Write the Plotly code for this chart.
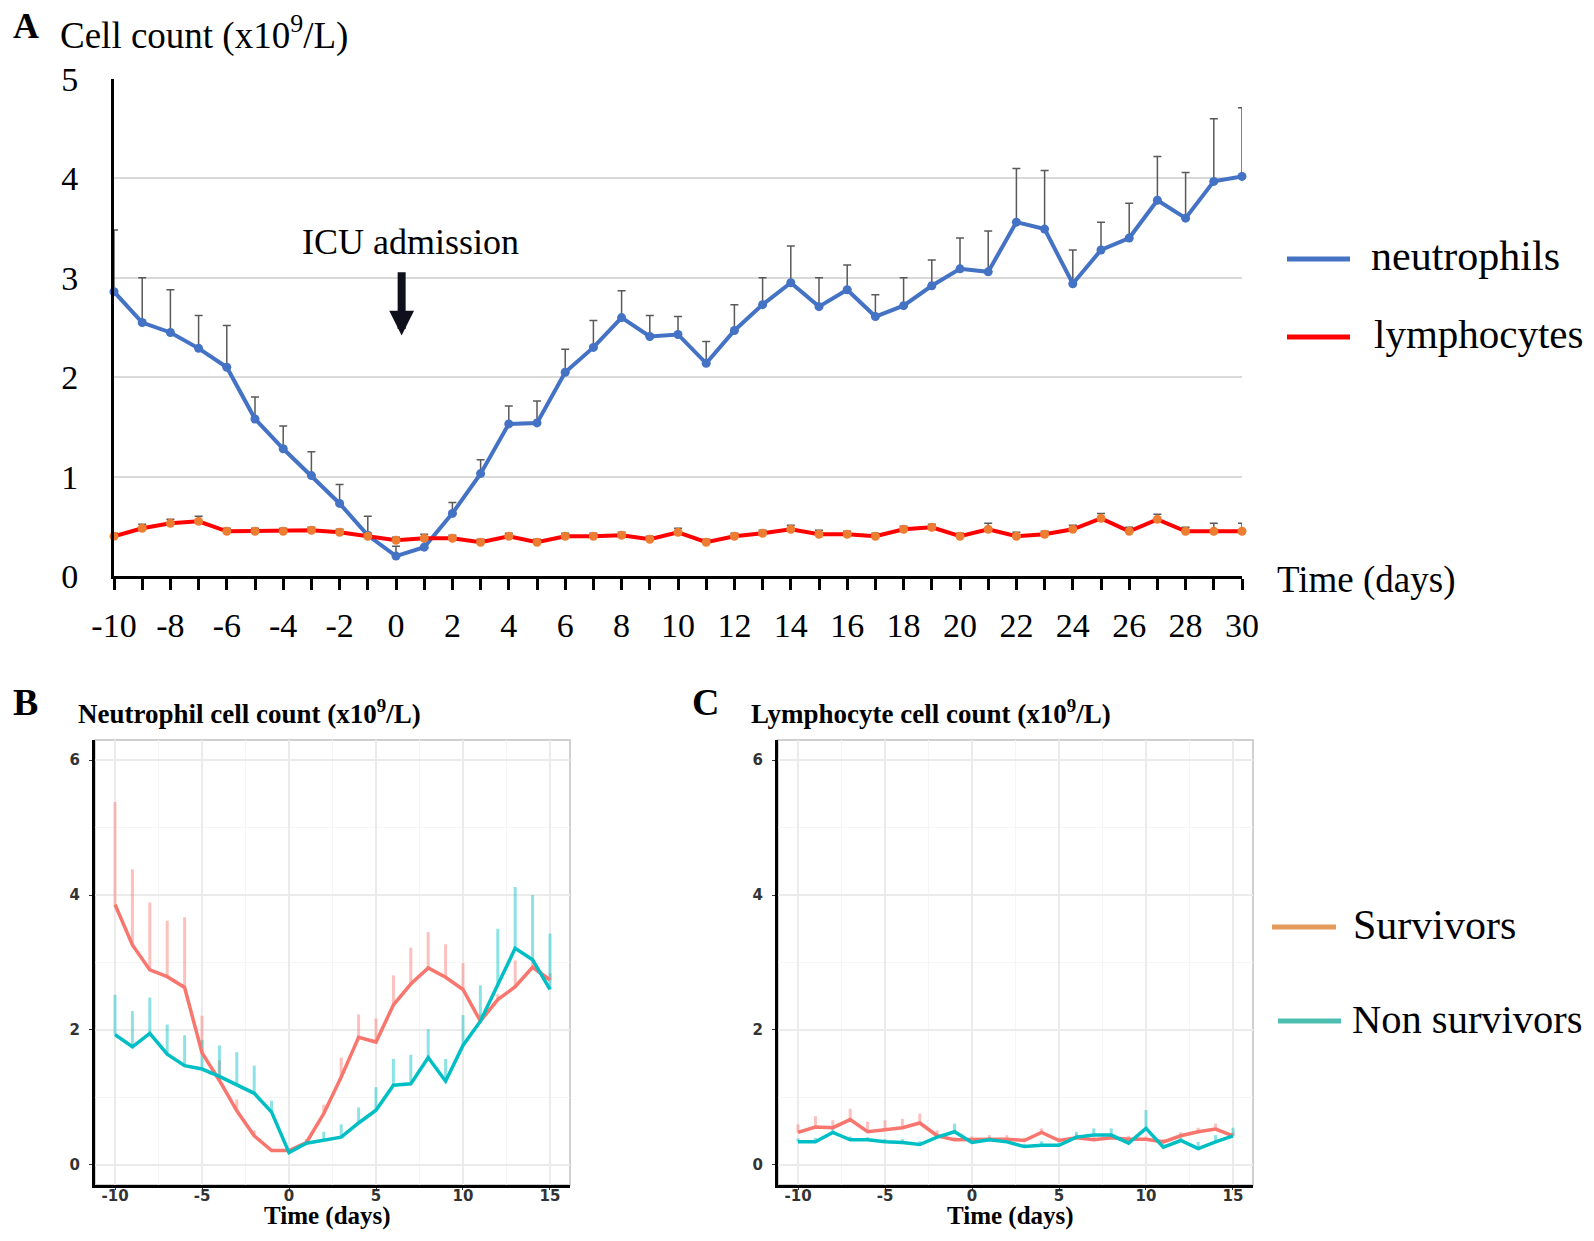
import plotly.graph_objects as go

# ---- Panel A data: whole cohort, day -10 .. 30 ----
days_a = list(range(-10, 31))
neutrophils = [2.86, 2.55, 2.45, 2.29, 2.10, 1.58, 1.28, 1.01, 0.73, 0.41,
               0.20, 0.29, 0.63, 1.03, 1.53, 1.54, 2.05, 2.30, 2.60, 2.41,
               2.43, 2.14, 2.47, 2.73, 2.95, 2.71, 2.88, 2.61, 2.72, 2.92,
               3.09, 3.06, 3.56, 3.49, 2.94, 3.28, 3.40, 3.78, 3.60, 3.97, 4.02]
neutrophils_err = [0.62, 0.45, 0.43, 0.33, 0.42, 0.22, 0.23, 0.24, 0.19, 0.19,
                   0.10, 0.08, 0.11, 0.14, 0.18, 0.22, 0.23, 0.27, 0.27, 0.21,
                   0.18, 0.22, 0.26, 0.27, 0.37, 0.29, 0.25, 0.22, 0.28, 0.26,
                   0.31, 0.41, 0.54, 0.59, 0.34, 0.28, 0.35, 0.44, 0.46, 0.63, 0.69]
lymphocytes = [0.40, 0.48, 0.53, 0.55, 0.45, 0.45, 0.45, 0.46, 0.44, 0.40,
               0.36, 0.38, 0.38, 0.34, 0.40, 0.34, 0.40, 0.40, 0.41, 0.37,
               0.44, 0.34, 0.40, 0.43, 0.47, 0.42, 0.42, 0.40, 0.47, 0.49,
               0.40, 0.47, 0.40, 0.42, 0.47, 0.58, 0.45, 0.57, 0.45, 0.45, 0.45]
lymphocytes_err = [0.03, 0.04, 0.04, 0.05, 0.03, 0.03, 0.03, 0.03, 0.03, 0.03,
                   0.03, 0.04, 0.03, 0.03, 0.03, 0.03, 0.03, 0.03, 0.03, 0.03,
                   0.04, 0.03, 0.03, 0.03, 0.04, 0.04, 0.03, 0.03, 0.03, 0.03,
                   0.03, 0.06, 0.04, 0.03, 0.04, 0.05, 0.04, 0.05, 0.04, 0.08, 0.08]
ticks_a = list(range(-10, 31, 2))

# ---- Panels B and C: survivors vs non survivors, day -10 .. 15 ----
days_bc = list(range(-10, 16))
neut_surv = [3.86, 3.26, 2.89, 2.79, 2.63, 1.66, 1.25, 0.80, 0.43, 0.21,
             0.21, 0.33, 0.76, 1.30, 1.89, 1.82, 2.37, 2.68, 2.92, 2.78,
             2.60, 2.13, 2.45, 2.64, 2.93, 2.74]
neut_surv_err = [1.52, 1.12, 1.00, 0.83, 1.04, 0.55, 0.30, 0.17, 0.08, 0.03,
                 0.03, 0.05, 0.13, 0.29, 0.34, 0.35, 0.44, 0.54, 0.53, 0.49,
                 0.39, 0.10, 0.08, 0.39, 0.10, 0.10]
neut_non = [1.93, 1.75, 1.95, 1.64, 1.47, 1.42, 1.31, 1.19, 1.06, 0.78,
            0.18, 0.32, 0.36, 0.41, 0.62, 0.81, 1.18, 1.20, 1.59, 1.24,
            1.77, 2.13, 2.67, 3.21, 3.04, 2.60]
neut_non_err = [0.59, 0.53, 0.53, 0.44, 0.45, 0.43, 0.46, 0.48, 0.41, 0.17,
                0.03, 0.05, 0.13, 0.19, 0.23, 0.34, 0.39, 0.43, 0.42, 0.33,
                0.45, 0.53, 0.83, 0.91, 0.96, 0.83]
lymph_surv = [0.48, 0.56, 0.55, 0.67, 0.49, 0.52, 0.55, 0.62, 0.43, 0.37,
              0.38, 0.38, 0.38, 0.36, 0.48, 0.36, 0.40, 0.37, 0.40, 0.38,
              0.38, 0.34, 0.43, 0.49, 0.53, 0.43]
lymph_surv_err = [0.12, 0.16, 0.11, 0.16, 0.15, 0.14, 0.13, 0.14, 0.08, 0.04,
                  0.04, 0.06, 0.06, 0.04, 0.06, 0.04, 0.05, 0.05, 0.05, 0.05,
                  0.04, 0.04, 0.05, 0.06, 0.08, 0.05]
lymph_non = [0.34, 0.34, 0.48, 0.37, 0.37, 0.34, 0.33, 0.30, 0.41, 0.49,
             0.33, 0.37, 0.34, 0.27, 0.29, 0.29, 0.41, 0.44, 0.44, 0.32,
             0.54, 0.26, 0.36, 0.24, 0.34, 0.43]
lymph_non_err = [0.05, 0.06, 0.05, 0.05, 0.04, 0.04, 0.05, 0.05, 0.05, 0.12,
                 0.04, 0.04, 0.04, 0.04, 0.06, 0.04, 0.08, 0.10, 0.10, 0.05,
                 0.27, 0.04, 0.10, 0.10, 0.10, 0.12]
ticks_bc = [-10, -5, 0, 5, 10, 15]
ticks_bc_y = [0, 2, 4, 6]

# the page body has an 8px margin, so the figure starts 8px in from the corner
# and is kept 16px smaller than the window to avoid scrollbars
PAD = 8
W, H = 1594 - 2 * PAD, 1241 - 2 * PAD
SERIF = "Liberation Serif, Times New Roman, serif"
SURV = "#f8766d"
NON = "#00bfc4"


def px(x):
    return (x - PAD) / W


def py(y):
    return 1 - (y - PAD) / H


fig = go.Figure()

# panel A
fig.add_trace(go.Scatter(
    x=days_a, y=neutrophils, mode="lines+markers", cliponaxis=False,
    line=dict(color="#4472c4", width=4), marker=dict(color="#4472c4", size=9),
    error_y=dict(type="data", symmetric=False, array=neutrophils_err,
                 arrayminus=[0] * len(days_a), color="#595959", thickness=1.5, width=4),
    showlegend=False, xaxis="x", yaxis="y"))
fig.add_trace(go.Scatter(
    x=days_a, y=lymphocytes, mode="lines+markers", cliponaxis=False,
    line=dict(color="#ff0000", width=4), marker=dict(color="#ed7d31", size=9),
    error_y=dict(type="data", symmetric=False, array=lymphocytes_err,
                 arrayminus=[0] * len(days_a), color="#595959", thickness=1.5, width=4),
    showlegend=False, xaxis="x", yaxis="y"))

# panels B and C
panels = [("x2", "y2", neut_surv, neut_surv_err, neut_non, neut_non_err),
          ("x3", "y3", lymph_surv, lymph_surv_err, lymph_non, lymph_non_err)]
for xa, ya, s, s_err, n, n_err in panels:
    for vals, err, fade in [(s, s_err, "rgba(248,118,109,0.45)"),
                            (n, n_err, "rgba(0,191,196,0.45)")]:
        fig.add_trace(go.Scatter(
            x=days_bc, y=vals, mode="markers",
            marker=dict(size=1, color="rgba(0,0,0,0)"),
            error_y=dict(type="data", symmetric=False, array=err,
                         arrayminus=[0] * len(days_bc), color=fade, thickness=3, width=0),
            showlegend=False, xaxis=xa, yaxis=ya, hoverinfo="skip"))
    for vals, col in [(s, SURV), (n, NON)]:
        fig.add_trace(go.Scatter(
            x=days_bc, y=vals, mode="lines", line=dict(color=col, width=3.5),
            showlegend=False, xaxis=xa, yaxis=ya))

small_tick = dict(family="DejaVu Sans", size=15, color="#333333", weight="bold")

fig.update_layout(
    width=W, height=H, margin=dict(l=0, r=0, t=0, b=0),
    paper_bgcolor="white", plot_bgcolor="white",
    xaxis=dict(domain=[px(114), px(1242)], range=[-10, 30], automargin=False,
               tickvals=ticks_a, ticktext=[str(v) for v in ticks_a],
               ticks="outside", ticklen=11, tickwidth=3, tickcolor="black",
               minor=dict(dtick=1, tick0=-10, ticks="outside", ticklen=11, tickwidth=3,
                          tickcolor="black"),
               showline=True, linecolor="black", linewidth=3, showgrid=False, zeroline=False,
               tickfont=dict(family=SERIF, size=34, color="black"), ticklabelstandoff=6),
    yaxis=dict(domain=[py(576), py(79)], range=[0, 5], dtick=1, ticks="", automargin=False,
               showgrid=True, gridcolor="#d9d9d9", gridwidth=2,
               showline=True, linecolor="black", linewidth=3, zeroline=False,
               tickfont=dict(family=SERIF, size=34, color="black"), ticklabelstandoff=26),
)

for xa, ya, dom in [("xaxis2", "yaxis2", [95, 570]), ("xaxis3", "yaxis3", [778, 1253])]:
    fig.update_layout({
        xa: dict(domain=[px(dom[0]), px(dom[1])], anchor="y" + xa[-1], range=[-11.15, 16.15],
                 automargin=False,
                 tickvals=ticks_bc, ticktext=[str(v) for v in ticks_bc],
                 ticks="outside", ticklen=2, tickcolor="#333333",
                 showgrid=True, gridcolor="#ebebeb", gridwidth=1.5,
                 minor=dict(dtick=2.5, tick0=-10, showgrid=True, gridcolor="#f5f5f5", gridwidth=1),
                 showline=True, linecolor="black", linewidth=3, zeroline=False,
                 tickfont=small_tick, ticklabelstandoff=-7),
        ya: dict(domain=[py(1185), py(740)], anchor="x" + ya[-1], range=[-0.3, 6.3],
                 automargin=False,
                 tickvals=ticks_bc_y, ticktext=[str(v) for v in ticks_bc_y],
                 ticks="outside", ticklen=3, tickcolor="#333333",
                 showgrid=True, gridcolor="#ebebeb", gridwidth=1.5,
                 minor=dict(dtick=1, tick0=0, showgrid=True, gridcolor="#f5f5f5", gridwidth=1),
                 showline=True, linecolor="black", linewidth=3, zeroline=False,
                 tickfont=small_tick, ticklabelstandoff=6),
    })

shapes = []
for xd, yd in [("x2 domain", "y2 domain"), ("x3 domain", "y3 domain")]:
    shapes.append(dict(type="rect", xref=xd, yref=yd, x0=0, x1=1, y0=0, y1=1,
                       line=dict(color="#d0d0d0", width=2), layer="below"))

# legend keys drawn by hand so their size matches the figure
for y, col, x0, x1 in [(259, "#4472c4", 1287, 1350), (337, "#ff0000", 1287, 1350),
                       (927, "#e39a5c", 1272, 1336), (1021, "#4dbfb0", 1278, 1341)]:
    shapes.append(dict(type="line", xref="paper", yref="paper", x0=px(x0), x1=px(x1),
                       y0=py(y), y1=py(y), line=dict(color=col, width=5)))
fig.update_layout(shapes=shapes)

ann = []


def text(x, y, s, size, bold=False, anchor="left"):
    ann.append(dict(xref="paper", yref="paper", x=px(x), y=py(y), text=s, showarrow=False,
                    xanchor=anchor, yanchor="middle",
                    font=dict(family=SERIF, size=size, color="black",
                              weight="bold" if bold else "normal")))


text(11, 26, "A", 36, bold=True)
text(58, 33, "Cell count (x10<sup>9</sup>/L)", 37)
text(411, 242, "ICU admission", 36, anchor="center")
text(1275, 580, "Time (days)", 37)
text(1369, 256, "neutrophils", 42)
text(1372, 334, "lymphocytes", 41)

text(11, 702, "B", 38, bold=True)
text(76, 712, "Neutrophil cell count (x10<sup>9</sup>/L)", 27, bold=True)
text(690, 702, "C", 38, bold=True)
text(749, 712, "Lymphocyte cell count (x10<sup>9</sup>/L)", 27, bold=True)
text(327, 1216, "Time (days)", 25, bold=True, anchor="center")
text(1010, 1216, "Time (days)", 25, bold=True, anchor="center")
text(1351, 925, "Survivors", 42)
text(1350, 1019, "Non survivors", 40.5)

# ICU admission arrow
ann.append(dict(xref="x", yref="y", axref="x", ayref="y", x=0.2, y=2.42, ax=0.2, ay=3.07,
                text="", showarrow=True, arrowhead=2, arrowsize=0.62, arrowwidth=8,
                arrowcolor="#10101c"))
fig.update_layout(annotations=ann)

fig.write_html("out.html")
